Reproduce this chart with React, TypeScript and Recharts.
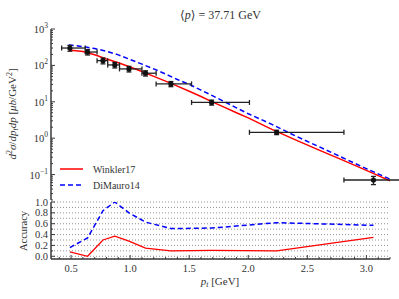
import React from 'react';
import { ComposedChart, Line, Scatter, ErrorBar, XAxis, YAxis, CartesianGrid } from 'recharts';

// measured points, p_t bins
const ptCenter = [0.49, 0.64, 0.77, 0.87, 0.99, 1.13, 1.345, 1.69, 2.24, 3.06];
const ptBinLow = [0.42, 0.62, 0.72, 0.81, 0.91, 1.1, 1.22, 1.52, 2.01, 2.81];
const ptBinHigh = [0.62, 0.72, 0.81, 0.91, 1.1, 1.22, 1.52, 2.01, 2.81, 3.3];
const xsec = [300, 233, 135, 103, 80, 61, 31, 9.6, 1.45, 0.071];
const xsecErr = [55, 40, 25, 18, 14, 10, 5, 1.5, 0.2, 0.018];

// model curves
const modelPt = [0.48, 0.6, 0.7, 0.8, 0.9, 1.0, 1.1, 1.2, 1.3, 1.4, 1.5, 1.6, 1.7, 1.8, 1.9, 2.0, 2.2, 2.4, 2.6, 2.8, 3.0, 3.2];
const winkler17 = [265, 240, 195, 150, 118, 90, 68, 50, 37, 27, 19.5, 14, 9.8, 7, 5, 3.6, 1.75, 0.9, 0.47, 0.25, 0.13, 0.067];
const diMauro14 = [365, 330, 290, 245, 195, 145, 108, 80, 58, 41, 30, 21, 14.5, 10, 6.8, 4.7, 2.4, 1.15, 0.58, 0.29, 0.145, 0.075];

// accuracy at the data points
const accWinkler17 = [0.08, 0.0, 0.3, 0.37, 0.28, 0.15, 0.1, 0.11, 0.1, 0.35];
const accDiMauro14 = [0.16, 0.34, 0.84, 1.0, 0.8, 0.63, 0.51, 0.52, 0.62, 0.57];

const xMajor = [0.5, 1.0, 1.5, 2.0, 2.5, 3.0];
const logMajor = [0.1, 1, 10, 100, 1000];
const accMajor = [0, 0.2, 0.4, 0.6, 0.8, 1.0];

const X_DOMAIN = [0.33, 3.2];
const Y_DOMAIN = [0.02, 1000];
const ACC_DOMAIN = [-0.05, 1.0];

const FONT = '"Liberation Serif", "DejaVu Serif", serif';
const INK = '#333';
const AXIS = '#3a3a3a';

const xTicks = Array.from({ length: 29 }, (_, i) => +(0.4 + i * 0.1).toFixed(1));
const logTicks: number[] = [];
for (let d = -2; d <= 3; d++) {
  for (let m = 1; m <= 9; m++) {
    const v = +(m * Math.pow(10, d)).toPrecision(3);
    if (v >= 0.02 && v <= 1000) logTicks.push(v);
  }
}
const accTicks = Array.from({ length: 11 }, (_, i) => +(i * 0.1).toFixed(1));

const isMajor = (v: number, majors: number[]) => majors.some(m => Math.abs(m - v) < 1e-9);

const points = ptCenter.map((x, i) => ({
  x,
  y: xsec[i],
  xErr: [x - ptBinLow[i], ptBinHigh[i] - x],
  yErr: xsecErr[i],
}));
const winklerData = modelPt.map((x, i) => ({ x, y: winkler17[i] }));
const diMauroData = modelPt.map((x, i) => ({ x, y: diMauro14[i] }));
const accWinklerData = ptCenter.map((x, i) => ({ x, y: accWinkler17[i] }));
const accDiMauroData = ptCenter.map((x, i) => ({ x, y: accDiMauro14[i] }));

// inward ticks, matplotlib style
const LeftLogTick = (props: any) => {
  const { x, y, payload } = props;
  const v = payload.value;
  const major = isMajor(v, logMajor);
  const exp = Math.round(Math.log10(v));
  return (
    <g>
      <line x1={x} y1={y} x2={x + (major ? 4 : 2)} y2={y} stroke={AXIS} />
      {major && (
        <text x={x - 3} y={y + 4} textAnchor="end" fontSize={10.5} fontFamily={FONT} fill={INK}>
          10<tspan dy={-5} fontSize={7.5}>{exp < 0 ? '\u2212' + Math.abs(exp) : exp}</tspan>
        </text>
      )}
    </g>
  );
};

const RightLogTick = (props: any) => {
  const { x, y, payload } = props;
  const major = isMajor(payload.value, logMajor);
  return <line x1={x} y1={y} x2={x - (major ? 4 : 2)} y2={y} stroke={AXIS} />;
};

const LeftAccTick = (props: any) => {
  const { x, y, payload } = props;
  const major = isMajor(payload.value, accMajor);
  return (
    <g>
      <line x1={x} y1={y} x2={x + (major ? 4 : 2)} y2={y} stroke={AXIS} />
      {major && (
        <text x={x - 3} y={y + 3.5} textAnchor="end" fontSize={10.5} fontFamily={FONT} fill={INK}>
          {payload.value.toFixed(1)}
        </text>
      )}
    </g>
  );
};

const RightAccTick = (props: any) => {
  const { x, y, payload } = props;
  const major = isMajor(payload.value, accMajor);
  return <line x1={x} y1={y} x2={x - (major ? 4 : 2)} y2={y} stroke={AXIS} />;
};

const makeXTick = (dir: number, withLabel: boolean) => (props: any) => {
  const { x, y, payload } = props;
  const major = isMajor(payload.value, xMajor);
  return (
    <g>
      <line x1={x} y1={y} x2={x} y2={y + dir * (major ? 4 : 2)} stroke={AXIS} />
      {withLabel && major && (
        <text x={x} y={y + 13} textAnchor="middle" fontSize={10.5} fontFamily={FONT} fill={INK}>
          {payload.value.toFixed(1)}
        </text>
      )}
    </g>
  );
};

const Dot = (props: any) => <circle cx={props.cx} cy={props.cy} r={2.6} fill="#111" />;

const axisLine = { stroke: AXIS, strokeWidth: 1.5 };

export default function App() {
  return (
    <div style={{ position: 'absolute', left: 0, top: 0, width: 399, height: 299, background: '#fff' }}>
      {/* cross section panel */}
      <div style={{ position: 'absolute', left: 0, top: 0 }}>
        <ComposedChart width={399} height={201} margin={{ top: 29, right: 9, bottom: 1, left: 0 }}>
          <XAxis dataKey="x" type="number" domain={X_DOMAIN} allowDataOverflow ticks={xTicks} height={0}
            tickSize={0} tickMargin={0} axisLine={axisLine} tickLine={false} tick={makeXTick(-1, false)} interval={0} />
          <XAxis xAxisId="t" dataKey="x" type="number" orientation="top" domain={X_DOMAIN} allowDataOverflow ticks={xTicks} height={0}
            tickSize={0} tickMargin={0} axisLine={axisLine} tickLine={false} tick={makeXTick(1, false)} interval={0} />
          <YAxis dataKey="y" scale="log" type="number" domain={Y_DOMAIN} allowDataOverflow ticks={logTicks} width={51}
            tickSize={0} tickMargin={0} axisLine={axisLine} tickLine={false} tick={LeftLogTick} interval={0} />
          <YAxis yAxisId="r" dataKey="y" orientation="right" scale="log" type="number" domain={Y_DOMAIN} allowDataOverflow ticks={logTicks} width={0}
            tickSize={0} tickMargin={0} axisLine={axisLine} tickLine={false} tick={RightLogTick} interval={0} />
          <Line data={winklerData} dataKey="y" stroke="#ff0000" strokeWidth={1.5} dot={false} isAnimationActive={false} />
          <Line data={diMauroData} dataKey="y" stroke="#0000ff" strokeWidth={1.5} strokeDasharray="5 3" dot={false} isAnimationActive={false} />
          <Scatter data={points} dataKey="y" shape={Dot} isAnimationActive={false}>
            <ErrorBar dataKey="xErr" direction="x" width={2.5} stroke="#222" strokeWidth={1.3} />
            <ErrorBar dataKey="yErr" direction="y" width={2.5} stroke="#222" strokeWidth={1.3} />
          </Scatter>
        </ComposedChart>
      </div>

      {/* accuracy panel */}
      <div style={{ position: 'absolute', left: 0, top: 190 }}>
        <ComposedChart width={399} height={109} margin={{ top: 12, right: 9, bottom: 0, left: 0 }}>
          <CartesianGrid vertical={false} stroke="#777" strokeDasharray="1 2" strokeWidth={0.8} />
          <XAxis dataKey="x" type="number" domain={X_DOMAIN} allowDataOverflow ticks={xTicks} height={40}
            tickSize={0} tickMargin={0} axisLine={axisLine} tickLine={false} tick={makeXTick(-1, true)} interval={0} />
          <XAxis xAxisId="t" dataKey="x" type="number" orientation="top" domain={X_DOMAIN} allowDataOverflow ticks={xTicks} height={0}
            tickSize={0} tickMargin={0} axisLine={axisLine} tickLine={false} tick={makeXTick(1, false)} interval={0} />
          <YAxis dataKey="y" type="number" domain={ACC_DOMAIN} allowDataOverflow ticks={accTicks} width={51}
            tickSize={0} tickMargin={0} axisLine={axisLine} tickLine={false} tick={LeftAccTick} interval={0} />
          <YAxis yAxisId="r" dataKey="y" orientation="right" type="number" domain={ACC_DOMAIN} allowDataOverflow ticks={accTicks} width={0}
            tickSize={0} tickMargin={0} axisLine={axisLine} tickLine={false} tick={RightAccTick} interval={0} />
          <Line data={accWinklerData} dataKey="y" stroke="#ff0000" strokeWidth={1.3} dot={false} isAnimationActive={false} />
          <Line data={accDiMauroData} dataKey="y" stroke="#0000ff" strokeWidth={1.5} strokeDasharray="5 3" dot={false} isAnimationActive={false} />
        </ComposedChart>
      </div>

      {/* title, axis labels, legend */}
      <svg width={399} height={299} style={{ position: 'absolute', left: 0, top: 0, pointerEvents: 'none' }}
        fontFamily={FONT} fill={INK}>
        <text x={220.5} y={18.5} textAnchor="middle" fontSize={12}>
          {'\u27E8'}<tspan fontStyle="italic">p</tspan>{'\u27E9'} = 37.71 GeV
        </text>
        <text transform="translate(16,114) rotate(-90)" textAnchor="middle" fontSize={11}>
          <tspan fontStyle="italic">d</tspan>
          <tspan dy={-4} fontSize={8}>2</tspan>
          <tspan dy={4} fontStyle="italic">σ</tspan>
          <tspan>/</tspan>
          <tspan fontStyle="italic">dp</tspan>
          <tspan dy={2} fontSize={8} fontStyle="italic">t</tspan>
          <tspan dy={-2} fontStyle="italic">dp</tspan>
          <tspan> [</tspan>
          <tspan fontStyle="italic">μb</tspan>
          <tspan>/GeV</tspan>
          <tspan dy={-4} fontSize={8}>2</tspan>
          <tspan dy={4}>]</tspan>
        </text>
        <text transform="translate(27,231) rotate(-90)" textAnchor="middle" fontSize={10.5}>Accuracy</text>
        <text x={220} y={285} textAnchor="middle" fontSize={11}>
          <tspan fontStyle="italic">p</tspan>
          <tspan dy={2} fontSize={8} fontStyle="italic">t</tspan>
          <tspan dy={-2}> [GeV]</tspan>
        </text>
        <line x1={60} y1={169} x2={83} y2={169} stroke="#ff0000" strokeWidth={1.5} />
        <text x={93} y={172.5} fontSize={10}>Winkler17</text>
        <line x1={60} y1={185} x2={83} y2={185} stroke="#0000ff" strokeWidth={1.5} strokeDasharray="5 3" />
        <text x={93} y={188.5} fontSize={10}>DiMauro14</text>
      </svg>
    </div>
  );
}
